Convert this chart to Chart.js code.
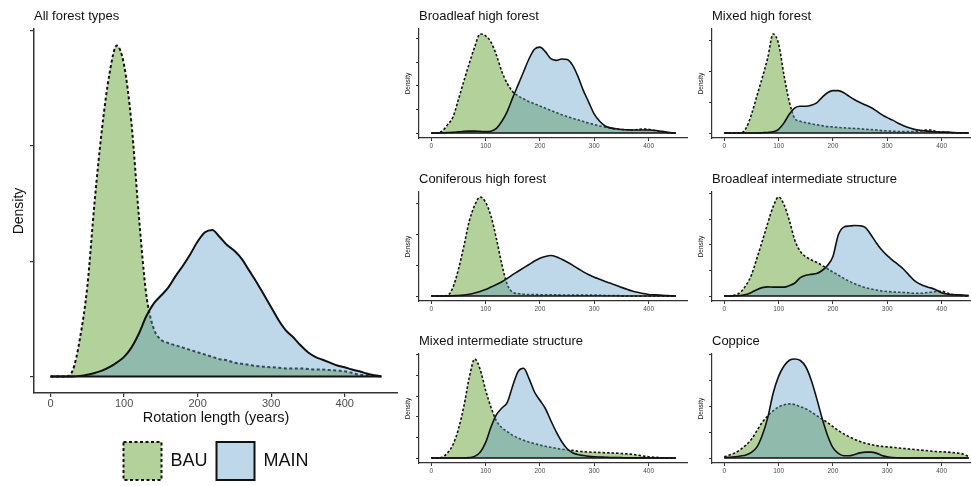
<!DOCTYPE html>
<html>
<head>
<meta charset="utf-8">
<script src="https://cdn.jsdelivr.net/npm/chart.js@4.4.1/dist/chart.umd.min.js"></script>
<style>
  html, body { margin: 0; padding: 0; background: #fff; width: 971px; height: 486px; overflow: hidden; }
  canvas { position: absolute; }
</style>
</head>
<body>
<canvas id="allTypes"></canvas>
<canvas id="broadHigh"></canvas>
<canvas id="mixedHigh"></canvas>
<canvas id="conifer"></canvas>
<canvas id="broadInter"></canvas>
<canvas id="mixedInter"></canvas>
<canvas id="coppice"></canvas>
<script>
// Eje x: duración de la rotación (años)
const years = [0, 10, 20, 30, 40, 50, 60, 70, 80, 90,
  100, 110, 120, 130, 140, 150, 160, 170, 180, 190,
  200, 210, 220, 230, 240, 250, 260, 270, 280, 290,
  300, 310, 320, 330, 340, 350, 360, 370, 380, 390,
  400, 410, 420, 430, 440, 450];
const xTicks = [0, 100, 200, 300, 400];
const seriesNames = ['BAU', 'MAIN'];

// Densidades (unidades relativas, 1 = una marca del eje y)
const allBau = [0, 0, 0, 0.05, 0.33, 0.78, 1.52, 2.15, 2.62, 2.87,
  2.70, 2.20, 1.40, 0.72, 0.42, 0.32, 0.29, 0.27, 0.25, 0.23,
  0.21, 0.19, 0.17, 0.15, 0.14, 0.12, 0.11, 0.10, 0.09, 0.085,
  0.08, 0.075, 0.07, 0.07, 0.07, 0.065, 0.06, 0.06, 0.055, 0.05,
  0.045, 0.03, 0.015, 0.01, 0.005, 0];
const allMain = [0, 0, 0, 0, 0.005, 0.015, 0.03, 0.05, 0.08, 0.12,
  0.17, 0.25, 0.37, 0.52, 0.63, 0.70, 0.77, 0.87, 0.96, 1.06,
  1.17, 1.25, 1.27, 1.21, 1.14, 1.09, 1.02, 0.92, 0.82, 0.71,
  0.60, 0.49, 0.40, 0.34, 0.27, 0.21, 0.17, 0.145, 0.12, 0.095,
  0.08, 0.06, 0.045, 0.025, 0.01, 0];

const broadHighBau = [0, 0, 0.08, 0.35, 0.68, 1.42, 2.2, 2.95, 3.65, 4.2,
  4.12, 3.85, 3.3, 2.6, 2.1, 1.75, 1.57, 1.45, 1.33, 1.24,
  1.15, 1.05, 0.96, 0.87, 0.78, 0.70, 0.63, 0.56, 0.49, 0.42,
  0.36, 0.30, 0.25, 0.20, 0.17, 0.15, 0.14, 0.13, 0.15, 0.17,
  0.16, 0.11, 0.06, 0.03, 0.01, 0];
const broadHighMain = [0, 0, 0.01, 0.02, 0.03, 0.05, 0.07, 0.08, 0.08, 0.07,
  0.06, 0.08, 0.2, 0.5, 0.92, 1.5, 2.05, 2.6, 3.15, 3.55,
  3.64, 3.45, 3.15, 3.08, 3.14, 3.12, 2.88, 2.4, 1.8, 1.3,
  0.8, 0.5, 0.3, 0.22, 0.18, 0.15, 0.14, 0.13, 0.13, 0.13,
  0.13, 0.12, 0.09, 0.05, 0.02, 0];

const mixedHighBau = [0, 0, 0, 0, 0.15, 0.6, 1.2, 1.8, 2.44, 3.22,
  2.9, 1.88, 1.0, 0.47, 0.38, 0.34, 0.3, 0.27, 0.24, 0.21,
  0.2, 0.18, 0.17, 0.16, 0.15, 0.14, 0.12, 0.11, 0.1, 0.08,
  0.07, 0.06, 0.05, 0.05, 0.05, 0.05, 0.06, 0.1, 0.1, 0.05,
  0.03, 0.02, 0.01, 0.01, 0, 0];
const mixedHighMain = [0, 0, 0, 0, 0, 0, 0, 0.01, 0.02, 0.04,
  0.12, 0.33, 0.62, 0.82, 0.87, 0.87, 0.9, 0.98, 1.16, 1.31,
  1.38, 1.38, 1.31, 1.19, 1.08, 0.99, 0.91, 0.83, 0.72, 0.6,
  0.5, 0.42, 0.32, 0.24, 0.17, 0.12, 0.09, 0.07, 0.05, 0.04,
  0.03, 0.03, 0.02, 0.01, 0.01, 0];

const coniferBau = [0, 0, 0, 0.02, 0.28, 0.86, 1.61, 2.42, 2.93, 3.2,
  3.03, 2.58, 1.85, 1.02, 0.37, 0.12, 0.08, 0.06, 0.05, 0.05,
  0.04, 0.04, 0.04, 0.04, 0.035, 0.035, 0.03, 0.03, 0.03, 0.03,
  0.03, 0.025, 0.02, 0.02, 0.02, 0.01, 0, 0, 0, 0,
  0, 0, 0, 0, 0, 0];
const coniferMain = [0, 0, 0, 0, 0.01, 0.02, 0.03, 0.06, 0.1, 0.15,
  0.21, 0.29, 0.37, 0.46, 0.57, 0.69, 0.8, 0.91, 1.02, 1.13,
  1.22, 1.28, 1.31, 1.27, 1.19, 1.1, 1.0, 0.89, 0.78, 0.69,
  0.61, 0.54, 0.47, 0.41, 0.35, 0.28, 0.22, 0.16, 0.12, 0.08,
  0.05, 0.04, 0.03, 0.02, 0.01, 0];

const broadInterBau = [0, 0, 0.04, 0.15, 0.42, 0.82, 1.47, 2.15, 2.85, 3.5,
  3.88, 3.58, 2.95, 2.18, 1.75, 1.54, 1.42, 1.32, 1.2, 1.07,
  0.94, 0.82, 0.69, 0.58, 0.48, 0.4, 0.33, 0.28, 0.24, 0.2,
  0.18, 0.16, 0.15, 0.14, 0.13, 0.11, 0.11, 0.13, 0.15, 0.18,
  0.19, 0.12, 0.06, 0.03, 0.01, 0];
const broadInterMain = [0, 0, 0.01, 0.02, 0.06, 0.14, 0.25, 0.33, 0.36, 0.35,
  0.35, 0.35, 0.41, 0.51, 0.72, 0.81, 0.85, 0.88, 1.0, 1.2,
  1.55, 2.4, 2.7, 2.74, 2.76, 2.75, 2.68, 2.4, 2.08, 1.8,
  1.58, 1.4, 1.23, 1.05, 0.82, 0.6, 0.47, 0.38, 0.32, 0.24,
  0.13, 0.08, 0.06, 0.05, 0.04, 0.02];

const mixedInterBau = [0, 0, 0.04, 0.25, 0.65, 1.4, 2.5, 3.9, 4.8, 4.3,
  3.3, 2.45, 1.8, 1.47, 1.28, 1.1, 0.97, 0.86, 0.77, 0.7,
  0.63, 0.57, 0.52, 0.47, 0.43, 0.4, 0.37, 0.33, 0.31, 0.29,
  0.28, 0.27, 0.26, 0.25, 0.24, 0.22, 0.2, 0.18, 0.14, 0.1,
  0.06, 0.04, 0.02, 0.01, 0, 0];
const mixedInterMain = [0, 0, 0, 0, 0, 0, 0, 0.02, 0.08, 0.28,
  0.75, 1.5, 2.1, 2.42, 2.7, 3.5, 4.2, 4.35, 3.85, 3.2,
  2.8, 2.4, 1.82, 1.27, 0.8, 0.45, 0.26, 0.17, 0.12, 0.08,
  0.06, 0.05, 0.04, 0.03, 0.03, 0.02, 0.01, 0.01, 0.01, 0.01,
  0, 0, 0, 0, 0, 0];

const coppiceBau = [0.05, 0.12, 0.2, 0.33, 0.5, 0.72, 1.05, 1.38, 1.62, 1.82,
  1.97, 2.05, 2.09, 2.06, 1.98, 1.9, 1.78, 1.64, 1.5, 1.37,
  1.21, 1.06, 0.93, 0.82, 0.72, 0.64, 0.57, 0.52, 0.48, 0.45,
  0.43, 0.41, 0.39, 0.37, 0.35, 0.33, 0.31, 0.29, 0.27, 0.25,
  0.24, 0.23, 0.21, 0.19, 0.15, 0.05];
const coppiceMain = [0.02, 0.03, 0.05, 0.08, 0.12, 0.22, 0.42, 0.88, 1.55, 2.5,
  3.15, 3.55, 3.77, 3.82, 3.76, 3.52, 3.01, 2.31, 1.54, 0.88,
  0.4, 0.18, 0.09, 0.09, 0.14, 0.2, 0.23, 0.23, 0.19, 0.1,
  0.05, 0.02, 0.01, 0, 0, 0, 0, 0, 0, 0,
  0, 0, 0, 0, 0, 0];

const fontFamily = '"Liberation Sans", Arial, Helvetica, sans-serif';
const bauFill = 'rgba(103, 163, 55, 0.5)';
const mainFill = 'rgba(92, 155, 200, 0.4)';
const ink = '#111';
const axisColor = '#333';
const tickText = '#4d4d4d';

function points(values) {
  return years.map((x, i) => ({ x: x, y: values[i] }));
}

// Dibuja un panel; g = área del gráfico en la página
function drawPanel(id, title, bau, main, g) {
  const big = !!g.big;
  const leftAxis = big ? 34 : 18;
  const head = 29;
  const xAxisH = big ? 40 : 16;
  const legendH = big ? 57 : 0;
  const canvas = document.getElementById(id);
  canvas.width = leftAxis + g.w + 6;
  canvas.height = head + g.h + xAxisH + legendH;
  canvas.style.left = (g.x - leftAxis) + 'px';
  canvas.style.top = (g.y - head) + 'px';

  const yTop = Math.max(...bau, ...main);
  const span = years[years.length - 1] - years[0];
  const lw = big ? 2 : 1.6;
  const dash = big ? [3, 2.5] : [2.5, 2];

  new Chart(canvas.getContext('2d'), {
    type: 'line',
    data: {
      datasets: [
        { label: seriesNames[0], data: points(bau), borderColor: ink, borderWidth: lw, borderDash: dash,
          backgroundColor: bauFill, fill: 'origin', pointRadius: 0, cubicInterpolationMode: 'monotone', order: 3 },
        { label: seriesNames[1], data: points(main), borderColor: ink, borderWidth: lw,
          backgroundColor: mainFill, fill: 'origin', pointRadius: 0, cubicInterpolationMode: 'monotone', order: 2 },
        { label: 'base', data: points(years.map(() => 0)), borderColor: ink, borderWidth: lw,
          fill: false, pointRadius: 0, order: 1 }
      ]
    },
    options: {
      responsive: false,
      animation: false,
      events: [],
      layout: { padding: 0 },
      plugins: {
        tooltip: { enabled: false },
        title: {
          display: true, text: title, align: 'start', fullSize: false, color: ink,
          font: { family: fontFamily, size: 13, weight: 'normal' },
          padding: { top: 8.7, bottom: 4.7 }
        },
        legend: big ? {
          display: true, position: 'bottom', fullSize: false,
          labels: {
            boxWidth: 38, boxHeight: 38, padding: 9, color: ink,
            font: { family: fontFamily, size: 18 },
            filter: item => item.datasetIndex < 2,
            sort: (a, b) => a.datasetIndex - b.datasetIndex
          }
        } : { display: false }
      },
      scales: {
        x: {
          type: 'linear',
          min: years[0] - 0.05 * span,
          max: years[years.length - 1] + 0.05 * span,
          afterBuildTicks: s => { s.ticks = xTicks.map(v => ({ value: v })); },
          afterFit: s => { s.height = xAxisH; },
          border: { display: true, color: axisColor, width: big ? 1.5 : 1.2 },
          grid: { display: true, drawOnChartArea: false, tickLength: big ? 4 : 3, color: axisColor, lineWidth: big ? 1.2 : 1 },
          ticks: { color: tickText, padding: big ? 0 : 1.5, maxRotation: 0,
            font: { family: fontFamily, size: big ? 11 : 6.5 } },
          title: big ? {
            display: true, text: 'Rotation length (years)', color: ink,
            font: { family: fontFamily, size: 14.5 }, padding: { top: 0, bottom: 6 }
          } : { display: false }
        },
        y: {
          min: -0.05 * yTop,
          max: 1.05 * yTop,
          afterBuildTicks: s => {
            const t = [];
            for (let v = 0; v <= s.max; v++) t.push({ value: v });
            s.ticks = t;
          },
          afterFit: s => { s.width = leftAxis; },
          border: { display: true, color: axisColor, width: big ? 1.5 : 1.2 },
          grid: { display: true, drawOnChartArea: false, tickLength: big ? 4 : 3, color: axisColor, lineWidth: big ? 1.2 : 1 },
          ticks: { display: false },
          title: {
            display: true, text: 'Density', color: ink,
            font: { family: fontFamily, size: big ? 14 : 6.5 },
            padding: { top: big ? 10.6 : 3.1, bottom: 0 }
          }
        }
      }
    }
  });
}

drawPanel('allTypes', 'All forest types', allBau, allMain, { x: 34, y: 29, w: 358, h: 364, big: true });
drawPanel('broadHigh', 'Broadleaf high forest', broadHighBau, broadHighMain, { x: 419, y: 29, w: 263, h: 109 });
drawPanel('mixedHigh', 'Mixed high forest', mixedHighBau, mixedHighMain, { x: 712, y: 29, w: 263, h: 109 });
drawPanel('conifer', 'Coniferous high forest', coniferBau, coniferMain, { x: 419, y: 192, w: 263, h: 109 });
drawPanel('broadInter', 'Broadleaf intermediate structure', broadInterBau, broadInterMain, { x: 712, y: 192, w: 263, h: 109 });
drawPanel('mixedInter', 'Mixed intermediate structure', mixedInterBau, mixedInterMain, { x: 419, y: 354, w: 263, h: 109 });
drawPanel('coppice', 'Coppice', coppiceBau, coppiceMain, { x: 712, y: 354, w: 263, h: 109 });
</script>
</body>
</html>
